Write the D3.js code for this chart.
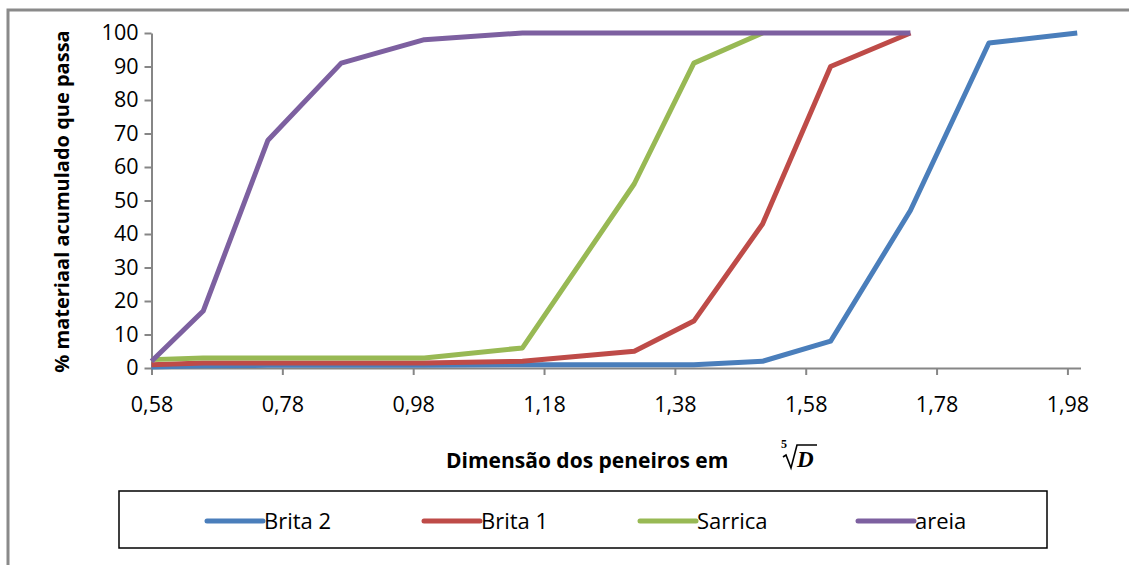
<!DOCTYPE html>
<html lang="pt">
<head>
<meta charset="utf-8">
<title>Curvas granulométricas</title>
<script src="https://cdn.jsdelivr.net/npm/d3@7/dist/d3.min.js"></script>
<style>
  body { margin: 0; background: #fff; }
  svg { display: block; }
  .tick text { font-family: "Open Sans", sans-serif; font-size: 21.5px; fill: #000; }
  .axis path, .axis line { stroke: #868686; stroke-width: 2px; }
</style>
</head>
<body>
<div id="chart"></div>
<script>
"use strict";

// sieve positions (fifth root of opening)
var sieveX = [0.58, 0.659, 0.758, 0.87, 0.997, 1.147, 1.318, 1.409, 1.514, 1.618, 1.74, 1.86, 1.995];
var seriesNames = ["Brita 2", "Brita 1", "Sarrica", "areia"];
var brita2 = [0.3, 0.7, 0.8, 0.8, 0.8, 1, 1, 1, 2, 8, 47, 97, 100];
var brita1 = [1, 1.5, 1.5, 1.5, 1.5, 2, 5, 14, 43, 90, 100, null, null];
var sarrica = [2.5, 3, 3, 3, 3, 6, 55, 91, 100, null, null, null, null];
var areia = [2, 17, 68, 91, 98, 100, 100, 100, 100, 100, 100, null, null];
var xTicks = [0.58, 0.78, 0.98, 1.18, 1.38, 1.58, 1.78, 1.98];
var yTicks = [0, 10, 20, 30, 40, 50, 60, 70, 80, 90, 100];
var colors = ["#4a7ebb", "#be4b48", "#98b954", "#7d60a0"];

var svg_width = 1129, svg_height = 565;
var plot_left = 151.5, plot_right = 1080.5, plot_top = 33, plot_bottom = 368;

var svg = d3.select("#chart").append("svg")
    .attr("width", svg_width)
    .attr("height", svg_height);

// chart frame (runs past the picture edge)
svg.append("rect")
    .attr("x", 8).attr("y", 10)
    .attr("width", 1300).attr("height", 700)
    .attr("fill", "#fff")
    .attr("stroke", "#8a8a8a")
    .attr("stroke-width", 3);

var x = d3.scaleLinear().domain([0.58, 2.0]).range([plot_left, plot_right]);
var y = d3.scaleLinear().domain([0, 100]).range([plot_bottom, plot_top]);

var fmt = function(d) { return d3.format(".2f")(d).replace(".", ","); };

svg.append("g")
    .attr("class", "axis")
    .attr("transform", "translate(0," + plot_bottom + ")")
    .call(d3.axisBottom(x).tickValues(xTicks).tickFormat(fmt).tickSize(7).tickSizeOuter(0).tickPadding(22));

svg.append("g")
    .attr("class", "axis")
    .attr("transform", "translate(" + plot_left + ",0)")
    .call(d3.axisLeft(y).tickValues(yTicks).tickSize(7).tickSizeOuter(0).tickPadding(6));

var allSeries = [brita2, brita1, sarrica, areia];

var line = d3.line()
    .defined(function(d) { return d[1] !== null; })
    .x(function(d) { return x(d[0]); })
    .y(function(d) { return y(d[1]); });

svg.append("g").selectAll("path")
    .data(allSeries)
    .enter()
    .append("path")
    .attr("d", function(s) { return line(s.map(function(v, i) { return [sieveX[i], v]; })); })
    .attr("fill", "none")
    .attr("stroke", function(d, i) { return colors[i]; })
    .attr("stroke-width", 5)
    .attr("stroke-linejoin", "round");

// axis titles
svg.append("text")
    .attr("transform", "translate(69," + ((plot_top + plot_bottom) / 2 + 1) + ") rotate(-90)")
    .attr("text-anchor", "middle")
    .style("font-family", "'Open Sans', sans-serif")
    .style("font-weight", "bold")
    .style("font-size", "20px")
    .text("% materiaal acumulado que passa");

svg.append("text")
    .attr("x", 446).attr("y", 468)
    .style("font-family", "'Open Sans', sans-serif")
    .style("font-weight", "bold")
    .style("font-size", "21px")
    .text("Dimensão dos peneiros em");

// fifth root of D
var root = svg.append("g").attr("transform", "translate(780,0)");
root.append("text")
    .attr("x", 1).attr("y", 448)
    .style("font-family", "'Liberation Serif', serif")
    .style("font-weight", "bold")
    .style("font-size", "12px")
    .text("5");
root.append("path")
    .attr("d", "M3,457 L6,455 L11,468 L17,445 L37,445")
    .attr("fill", "none")
    .attr("stroke", "#000")
    .attr("stroke-width", 1.6)
    .attr("stroke-linejoin", "miter");
root.append("text")
    .attr("x", 17).attr("y", 467)
    .style("font-family", "'Liberation Serif', serif")
    .style("font-weight", "bold")
    .style("font-style", "italic")
    .style("font-size", "23px")
    .text("D");

// legend
var legend = svg.append("g").attr("id", "legend");
legend.append("rect")
    .attr("x", 119).attr("y", 491)
    .attr("width", 928).attr("height", 57)
    .attr("fill", "#fff")
    .attr("stroke", "#000")
    .attr("stroke-width", 1.5);

var legendX = [207, 424, 640, 858];
var item = legend.selectAll("g.item")
    .data(seriesNames)
    .enter()
    .append("g")
    .attr("class", "item")
    .attr("transform", function(d, i) { return "translate(" + legendX[i] + ",521)"; });
item.append("line")
    .attr("x1", 0).attr("x2", 56)
    .attr("stroke", function(d, i) { return colors[i]; })
    .attr("stroke-width", 5)
    .attr("stroke-linecap", "round");
item.append("text")
    .attr("x", 57).attr("y", 8)
    .style("font-family", "'Open Sans', sans-serif")
    .style("font-size", "22px")
    .text(function(d) { return d; });
</script>
</body>
</html>
